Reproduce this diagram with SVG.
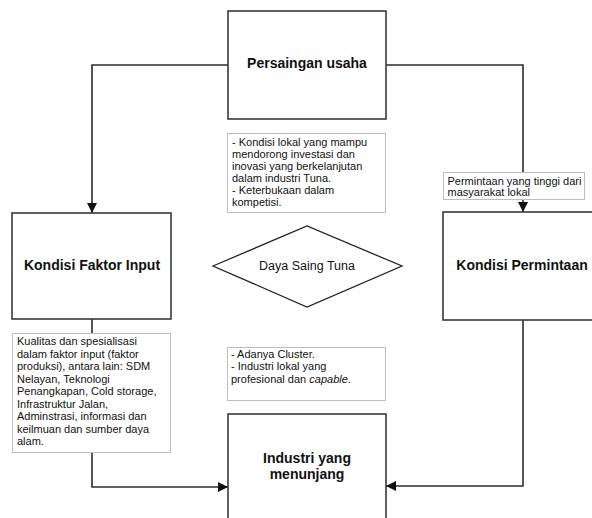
<svg xmlns="http://www.w3.org/2000/svg" width="592" height="518" viewBox="0 0 592 518">
  <defs>
    <marker id="arrow" viewBox="0 0 10 10" refX="10" refY="5" markerWidth="10" markerHeight="10" markerUnits="userSpaceOnUse" orient="auto">
      <path d="M0,0 L10,5 L0,10 z" fill="#111"/>
    </marker>
    <style>
      .box { fill: #fff; stroke: #3a3a3a; stroke-width: 1.6; }
      .note { fill: #fff; stroke: #bdbdbd; stroke-width: 1; }
      .title { font-family: "Liberation Sans", Arial, sans-serif; font-size: 14px; font-weight: bold; fill: #111; text-anchor: middle; }
      .small { font-family: "Liberation Sans", Arial, sans-serif; font-size: 11px; fill: #111; }
      .diam { font-family: "Liberation Sans", Arial, sans-serif; font-size: 12.5px; fill: #111; text-anchor: middle; }
      .link { fill: none; stroke: #2e2e2e; stroke-width: 1.6; }
    </style>
  </defs>
  <rect width="592" height="518" fill="#fff"/>

  <!-- connectors -->
  <g id="connectors">
    <polyline class="link" points="228,65 92,65 92,213" marker-end="url(#arrow)"/>
    <polyline class="link" points="386,65 523,65 523,212" marker-end="url(#arrow)"/>
    <polyline class="link" points="92,319 92,487 228,487" marker-end="url(#arrow)"/>
    <polyline class="link" points="523,320 523,486 386,486" marker-end="url(#arrow)"/>
  </g>

  <g id="persaingan-usaha">
    <rect class="box" x="228" y="11" width="158" height="108"/>
    <text class="title" x="307" y="68">Persaingan usaha</text>
  </g>

  <g id="kondisi-faktor-input">
    <rect class="box" x="12" y="213" width="159" height="106"/>
    <text class="title" x="92" y="270">Kondisi Faktor Input</text>
  </g>

  <g id="kondisi-permintaan">
    <rect class="box" x="443" y="212" width="160" height="108"/>
    <text class="title" x="522" y="270">Kondisi Permintaan</text>
  </g>

  <g id="industri-menunjang">
    <rect class="box" x="228" y="414" width="158" height="110"/>
    <text class="title" x="307" y="463">Industri yang</text>
    <text class="title" x="307" y="479">menunjang</text>
  </g>

  <g id="daya-saing-tuna">
    <polygon points="213,266 307,226 402,266 307,307" fill="#fff" stroke="#222" stroke-width="1.3"/>
    <text class="diam" x="307" y="270">Daya Saing Tuna</text>
  </g>

  <g id="note-persaingan">
    <rect class="note" x="227.5" y="133.5" width="158" height="79"/>
    <text class="small" x="232" y="146">- Kondisi lokal yang mampu</text>
    <text class="small" x="232" y="158">mendorong investasi dan</text>
    <text class="small" x="232" y="170">inovasi yang berkelanjutan</text>
    <text class="small" x="232" y="182">dalam industri Tuna.</text>
    <text class="small" x="232" y="194">- Keterbukaan dalam</text>
    <text class="small" x="232" y="206">kompetisi.</text>
  </g>

  <g id="note-permintaan">
    <rect class="note" x="443.5" y="172.5" width="141" height="27"/>
    <text class="small" x="447.5" y="185">Permintaan yang tinggi dari</text>
    <text class="small" x="447.5" y="196">masyarakat lokal</text>
  </g>

  <g id="note-faktor-input">
    <rect class="note" x="12.5" y="333.5" width="158" height="119"/>
    <text class="small" x="17" y="345">Kualitas dan spesialisasi</text>
    <text class="small" x="17" y="357.5">dalam faktor input (faktor</text>
    <text class="small" x="17" y="370">produksi), antara lain: SDM</text>
    <text class="small" x="17" y="382.5">Nelayan, Teknologi</text>
    <text class="small" x="17" y="395">Penangkapan, Cold storage,</text>
    <text class="small" x="17" y="407.5">Infrastruktur Jalan,</text>
    <text class="small" x="17" y="420">Adminstrasi, informasi dan</text>
    <text class="small" x="17" y="432.5">keilmuan dan sumber daya</text>
    <text class="small" x="17" y="445">alam.</text>
  </g>

  <g id="note-industri">
    <rect class="note" x="227.5" y="347.5" width="158" height="53"/>
    <text class="small" x="231" y="357.5">- Adanya Cluster.</text>
    <text class="small" x="231" y="370">- Industri lokal yang</text>
    <text class="small" x="231" y="382.5">profesional dan <tspan font-style="italic">capable</tspan>.</text>
  </g>
</svg>
